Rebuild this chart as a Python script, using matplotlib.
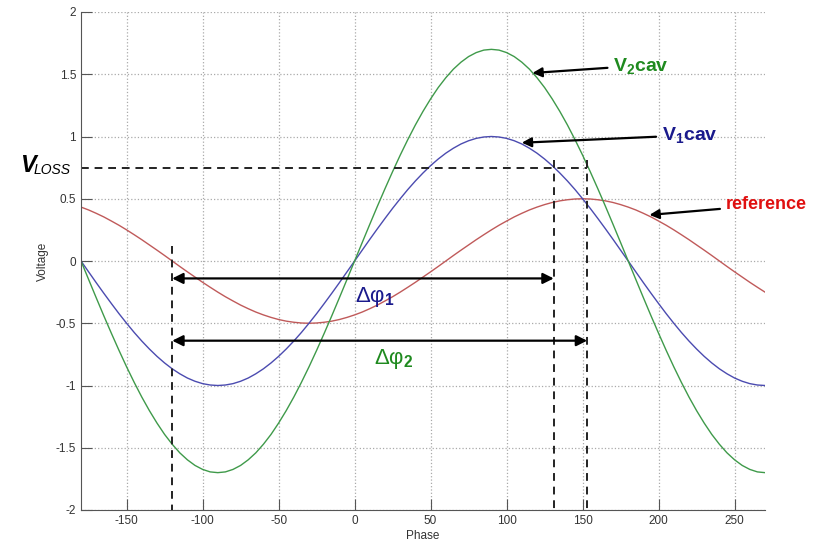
import numpy as np
import matplotlib
matplotlib.use("Agg")
import matplotlib.pyplot as plt

plt.rcParams['font.family'] = ['Liberation Sans', 'DejaVu Sans']
plt.rcParams['axes.unicode_minus'] = False
plt.rcParams['mathtext.fontset'] = 'custom'
plt.rcParams['mathtext.rm'] = 'Liberation Sans'
plt.rcParams['mathtext.it'] = 'Liberation Sans:italic'
plt.rcParams['mathtext.bf'] = 'Liberation Sans:bold'

# phase samples (deg) and curve values
phase = np.arange(-180, 271, 5)
v1cav = [0, -0.087, -0.174, -0.259, -0.342, -0.423, -0.500, -0.574, -0.643, -0.707,
         -0.766, -0.819, -0.866, -0.906, -0.940, -0.966, -0.985, -0.996, -1.000,
         -0.996, -0.985, -0.966, -0.940, -0.906, -0.866, -0.819, -0.766, -0.707,
         -0.643, -0.574, -0.500, -0.423, -0.342, -0.259, -0.174, -0.087, 0,
         0.087, 0.174, 0.259, 0.342, 0.423, 0.500, 0.574, 0.643, 0.707,
         0.766, 0.819, 0.866, 0.906, 0.940, 0.966, 0.985, 0.996, 1.000,
         0.996, 0.985, 0.966, 0.940, 0.906, 0.866, 0.819, 0.766, 0.707,
         0.643, 0.574, 0.500, 0.423, 0.342, 0.259, 0.174, 0.087, 0,
         -0.087, -0.174, -0.259, -0.342, -0.423, -0.500, -0.574, -0.643, -0.707,
         -0.766, -0.819, -0.866, -0.906, -0.940, -0.966, -0.985, -0.996, -1.000]
v2cav = [0, -0.148, -0.295, -0.440, -0.581, -0.718, -0.850, -0.975, -1.093, -1.202,
         -1.302, -1.393, -1.472, -1.541, -1.597, -1.642, -1.674, -1.694, -1.700,
         -1.694, -1.674, -1.642, -1.597, -1.541, -1.472, -1.393, -1.302, -1.202,
         -1.093, -0.975, -0.850, -0.718, -0.581, -0.440, -0.295, -0.148, 0,
         0.148, 0.295, 0.440, 0.581, 0.718, 0.850, 0.975, 1.093, 1.202,
         1.302, 1.393, 1.472, 1.541, 1.597, 1.642, 1.674, 1.694, 1.700,
         1.694, 1.674, 1.642, 1.597, 1.541, 1.472, 1.393, 1.302, 1.202,
         1.093, 0.975, 0.850, 0.718, 0.581, 0.440, 0.295, 0.148, 0,
         -0.148, -0.295, -0.440, -0.581, -0.718, -0.850, -0.975, -1.093, -1.202,
         -1.302, -1.393, -1.472, -1.541, -1.597, -1.642, -1.674, -1.694, -1.700]
reference = [0.433, 0.410, 0.383, 0.354, 0.321, 0.287, 0.250, 0.211, 0.171, 0.129,
             0.087, 0.044, 0,
             -0.044, -0.087, -0.129, -0.171, -0.211, -0.250, -0.287, -0.321, -0.354,
             -0.383, -0.410, -0.433, -0.453, -0.470, -0.483, -0.492, -0.498, -0.500,
             -0.498, -0.492, -0.483, -0.470, -0.453, -0.433, -0.410, -0.383, -0.354,
             -0.321, -0.287, -0.250, -0.211, -0.171, -0.129, -0.087, -0.044, 0,
             0.044, 0.087, 0.129, 0.171, 0.211, 0.250, 0.287, 0.321, 0.354,
             0.383, 0.410, 0.433, 0.453, 0.470, 0.483, 0.492, 0.498, 0.500,
             0.498, 0.492, 0.483, 0.470, 0.453, 0.433, 0.410, 0.383, 0.354,
             0.321, 0.287, 0.250, 0.211, 0.171, 0.129, 0.087, 0.044, 0,
             -0.044, -0.087, -0.129, -0.171, -0.211, -0.250]

v_loss = 0.75
phi_start = -120
phi1_end = 131
phi2_end = 153
xticks = [-150, -100, -50, 0, 50, 100, 150, 200, 250]
yticks = [-2, -1.5, -1, -0.5, 0, 0.5, 1, 1.5, 2]

fig = plt.figure(figsize=(8.2, 5.42), dpi=100)
ax = fig.add_axes([81 / 820, 1 - 510 / 542, (765 - 81) / 820, (510 - 12) / 542])

ax.plot(phase, reference, color='#c05a5a', lw=1)
ax.plot(phase, v1cav, color='#4b4bb0', lw=1)
ax.plot(phase, v2cav, color='#3f9a4a', lw=1)

ax.set_xlim(-180, 270)
ax.set_ylim(-2, 2)
ax.set_xticks(xticks)
ax.set_yticks(yticks)
ax.set_yticklabels(['-2', '-1.5', '-1', '-0.5', '0', '0.5', '1', '1.5', '2'])
ax.grid(True, ls=':', color='#aaaaaa', lw=0.9)
for s in ['top', 'right']:
    ax.spines[s].set_visible(False)
for s in ['left', 'bottom']:
    ax.spines[s].set_color('#555555')
ax.tick_params(direction='in', length=8, color='#555555', labelsize=8.5, labelcolor='#333333')
ax.set_xlabel('Phase', fontsize=8.5, color='#333333', labelpad=2)
ax.set_ylabel('Voltage', fontsize=8.5, color='#333333', labelpad=5)

# V_loss level and phase markers
dash = dict(color='#222222', lw=1.4, ls=(0, (4, 3)))
ax.plot([-180, phi2_end], [v_loss, v_loss], clip_on=False, **dash)
ax.plot([phi_start, phi_start], [0.12, -2], clip_on=False, **dash)
ax.plot([phi1_end, phi1_end], [0.81, -2], clip_on=False, **dash)
ax.plot([phi2_end, phi2_end], [0.81, -2], clip_on=False, **dash)

arr = dict(arrowstyle='<|-|>', color='black', lw=1.6, mutation_scale=16, shrinkA=0, shrinkB=0)
ax.annotate('', xy=(phi_start, -0.14), xytext=(phi1_end, -0.14), arrowprops=arr)
ax.annotate('', xy=(phi_start, -0.64), xytext=(phi2_end, -0.64), arrowprops=arr)
ax.text(0, -0.29, r'Δφ$_{\mathbf{1}}$', fontsize=16, color='#1a1a8c', va='center')
ax.text(13, -0.79, r'Δφ$_{\mathbf{2}}$', fontsize=16, color='#1f8a1f', va='center')

fig.text(20 / 820, 1 - 165 / 542, 'V', fontsize=17, fontweight='bold', style='italic',
         va='center', ha='left')
fig.text(34 / 820, 1 - 170 / 542, 'LOSS', fontsize=10, style='italic',
         va='center', ha='left')

lab = dict(arrowstyle='-|>', color='black', lw=1.6, mutation_scale=14, shrinkA=2, shrinkB=0)
ax.annotate(r'V$_{\mathbf{2}}$cav', xy=(117, 1.51), xytext=(170, 1.57), fontsize=14,
            fontweight='bold', color='#1f8a1f', va='center', arrowprops=lab)
ax.annotate(r'V$_{\mathbf{1}}$cav', xy=(110, 0.95), xytext=(202, 1.01), fontsize=14,
            fontweight='bold', color='#1a1a8c', va='center', arrowprops=lab)
ax.annotate('reference', xy=(194, 0.37), xytext=(244, 0.45), fontsize=13, fontweight='bold',
            color='#e01010', va='center', arrowprops=lab)

fig.savefig('out.png', dpi=100)
